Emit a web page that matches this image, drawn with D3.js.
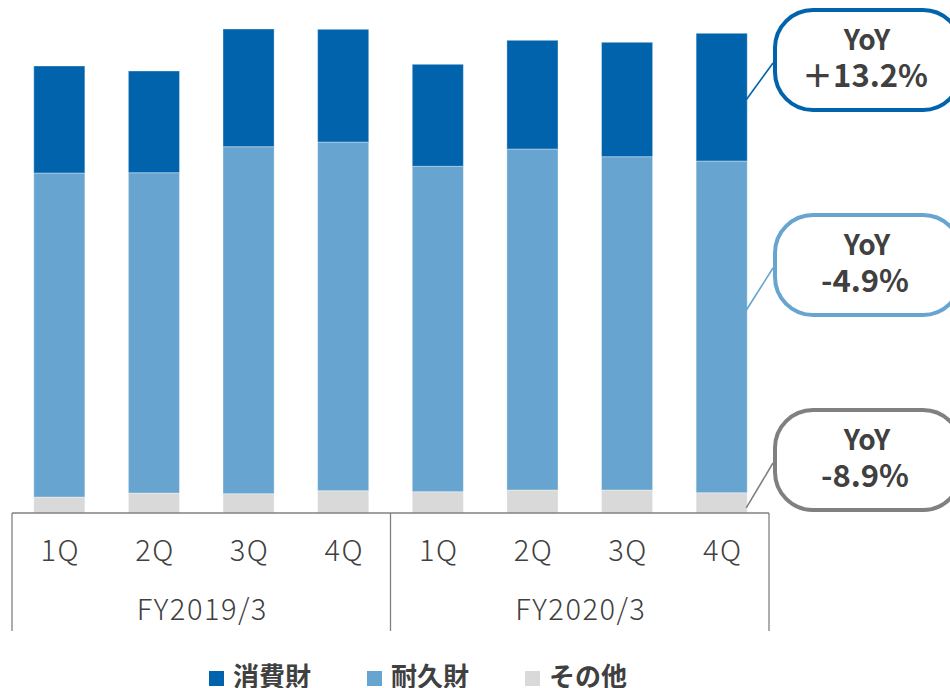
<!DOCTYPE html>
<html>
<head>
<meta charset="utf-8">
<script src="https://cdn.jsdelivr.net/npm/d3@7"></script>
<style>
  body { margin: 0; background: #fff; }
  svg { display: block; font-family: "Noto Sans CJK JP", "Noto Sans", sans-serif; }
</style>
</head>
<body>
<div id="chart"></div>
<script>
var quarters = ["1Q", "2Q", "3Q", "4Q", "1Q", "2Q", "3Q", "4Q"];
var years = ["FY2019/3", "FY2020/3"];
var keys = ["消費財", "耐久財", "その他"];

// values (arbitrary units)
var consumer = [107, 101.7, 117.7, 112.7, 102, 108.7, 114.4, 127.7];
var durable = [324, 320.3, 347, 348.7, 325.4, 341, 333.3, 331.7];
var other = [16, 20, 19.3, 22.3, 21.3, 23, 23, 20.3];

var yoyLabels = ["＋13.2%", "-4.9%", "-8.9%"];

var width = 950,
    height = 688;

var colors = ["#0063ac", "#67a4cf", "#d9d9d9"];
var boxColors = ["#0063ac", "#67a4cf", "#808080"];

var svg = d3.select("#chart").append("svg")
  .attr("width", width)
  .attr("height", height);

var data = quarters.map(function(q, i) {
  return { i: i, q: q, "消費財": consumer[i], "耐久財": durable[i], "その他": other[i] };
});

var x = d3.scaleBand()
  .domain(d3.range(quarters.length))
  .range([12, 769])
  .paddingInner(0.46)
  .paddingOuter(0.23);

var y = d3.scaleLinear()
  .domain([0, 513])
  .range([513, 0]);

// stack with その他 at the bottom
var stack = d3.stack().keys(keys.slice().reverse())(data);

svg.append("g")
  .selectAll("g")
  .data(stack)
  .enter().append("g")
    .attr("fill", function(d) { return colors[keys.indexOf(d.key)]; })
  .selectAll("rect")
  .data(function(d) { return d; })
  .enter().append("rect")
    .attr("x", function(d) { return x(d.data.i); })
    .attr("y", function(d) { return y(d[1]); })
    .attr("height", function(d) { return y(d[0]) - y(d[1]); })
    .attr("width", x.bandwidth())
    .attr("stroke", "#fff")
    .attr("stroke-opacity", 0.35)
    .attr("stroke-width", 1);

// axis: baseline + group separators
var axisColor = "#808080";
var x0 = x.range()[0], x1 = x.range()[1];
var step = x.step();
var axisBottom = 631;

var axis = svg.append("g").attr("stroke", axisColor).attr("stroke-width", 1.3);
axis.append("line")
  .attr("x1", x0).attr("x2", x1)
  .attr("y1", y(0)).attr("y2", y(0));
[0, 4, 8].forEach(function(k) {
  axis.append("line")
    .attr("x1", x0 + k * step).attr("x2", x0 + k * step)
    .attr("y1", y(0)).attr("y2", axisBottom);
});

svg.append("g")
  .selectAll("text")
  .data(data)
  .enter().append("text")
    .attr("x", function(d) { return x(d.i) + x.bandwidth() / 2 + 1; })
    .attr("y", 561)
    .attr("text-anchor", "middle")
    .attr("font-size", 29)
    .attr("font-weight", 300)
    .attr("letter-spacing", 1.5)
    .attr("fill", "#404040")
    .text(function(d) { return d.q; });

svg.append("g")
  .selectAll("text")
  .data(years)
  .enter().append("text")
    .attr("x", function(d, i) { return x0 + (i * 4 + 2) * step + 1; })
    .attr("y", 620)
    .attr("text-anchor", "middle")
    .attr("font-size", 29)
    .attr("font-weight", 300)
    .attr("letter-spacing", 1.5)
    .attr("fill", "#404040")
    .text(function(d) { return d; });

// YoY call-outs, linked to the last bar
var last = data.length - 1;
var boxTops = [10, 215, 410];
var anchorFrac = [0.48, 0.55, 0.25];
var boxX = 775, boxW = 186, boxH = 100;

var callouts = svg.append("g")
  .selectAll("g")
  .data(keys)
  .enter().append("g");

callouts.append("line")
  .attr("x1", x(last) + x.bandwidth() - 1)
  .attr("y1", function(k) {
    var s = stack[keys.length - 1 - keys.indexOf(k)][last];
    var f = anchorFrac[keys.indexOf(k)];
    return y(s[0] + (s[1] - s[0]) * f);
  })
  .attr("x2", boxX - 2)
  .attr("y2", function(k, i) { return boxTops[i] + 53; })
  .attr("stroke", function(k, i) { return boxColors[i]; })
  .attr("stroke-width", 1.6);

callouts.append("rect")
  .attr("x", boxX)
  .attr("y", function(k, i) { return boxTops[i]; })
  .attr("width", boxW)
  .attr("height", boxH)
  .attr("rx", 38)
  .attr("fill", "#fff")
  .attr("stroke", function(k, i) { return boxColors[i]; })
  .attr("stroke-width", 4);

callouts.append("text")
  .attr("x", boxX + boxW / 2 - 1)
  .attr("y", function(k, i) { return boxTops[i] + 40; })
  .attr("text-anchor", "middle")
  .attr("font-size", 28)
  .attr("font-weight", "bold")
  .attr("fill", "#404040")
  .text("YoY");

callouts.append("text")
  .attr("x", boxX + boxW / 2 - 3)
  .attr("y", function(k, i) { return boxTops[i] + 77; })
  .attr("text-anchor", "middle")
  .attr("font-size", 31)
  .attr("font-weight", "bold")
  .attr("fill", "#404040")
  .text(function(k, i) { return yoyLabels[i]; });

// legend
var legendX = [209, 367, 525];
var legend = svg.append("g")
  .selectAll("g")
  .data(keys)
  .enter().append("g")
    .attr("transform", function(d, i) { return "translate(" + legendX[i] + ",0)"; });

legend.append("rect")
  .attr("y", 671)
  .attr("width", 15)
  .attr("height", 15)
  .attr("fill", function(d, i) { return colors[i]; });

legend.append("text")
  .attr("x", 24)
  .attr("y", 686)
  .attr("font-size", 26)
  .attr("font-weight", "bold")
  .attr("fill", "#404040")
  .text(function(d) { return d; });
</script>
</body>
</html>
